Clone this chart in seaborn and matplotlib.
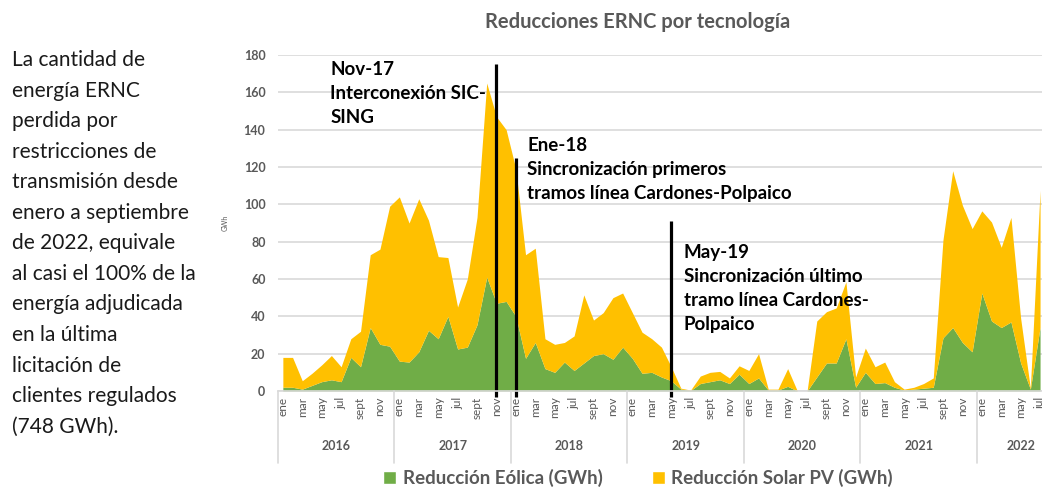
import numpy as np
import pandas as pd
import matplotlib
matplotlib.use("Agg")
import matplotlib.pyplot as plt
from matplotlib.patches import Patch
from matplotlib.transforms import blended_transform_factory
import seaborn as sns

# ---------------- data ----------------
years = [2016, 2017, 2018, 2019, 2020, 2021, 2022]
months_per_year = [12, 12, 12, 12, 12, 12, 9]   # period covered: Jan-2016 .. Sep-2022
month_names = ["ene", "feb", "mar", "abr", "may", "jun", "jul", "ago", "sept", "oct", "nov", "dic"]

# Reducción Eólica (GWh), Jan-2016 .. Jul-2022 (visible part)
eolica = [2, 2, 1, 3, 5, 6, 5, 18, 13, 34, 25, 24,
          16, 15.5, 21, 32.5, 28, 40, 22.5, 23.5, 35.5, 61, 47, 48,
          40, 17.5, 26, 12, 10, 15.5, 11, 15, 19, 20, 17, 23.5,
          17.5, 9.5, 10, 7.5, 5.5, 1, 0.3, 4, 5, 6, 4, 9,
          4, 7, 0.5, 0.5, 2.5, 0, 0, 7.5, 15, 15, 28, 2,
          10, 4, 4.5, 2, 0.5, 1, 1.5, 2, 28.5, 34, 26, 21,
          52.5, 37.5, 34, 37, 15, 1, 34]
# Total reduction (Eólica + Solar PV) read from stack top
total = [18, 18, 5.5, 9.5, 14, 19, 13, 28, 32, 73, 76, 99,
         104, 90, 103, 91.5, 72, 71.5, 45, 60, 93, 165, 147, 140,
         119, 73, 76.5, 28, 25, 26, 29.5, 51.5, 38, 42, 50, 52.5,
         42, 31.5, 28, 23.5, 13, 1.5, 0.5, 8, 10, 10.5, 7, 13.5,
         11, 20, 1, 1, 12, 0, 0, 37.5, 42.5, 44.5, 58.5, 7.5,
         23, 13, 15.5, 5, 1, 2, 4, 7, 81, 118, 99.5, 87,
         96.5, 90.5, 77, 93, 39, 1.5, 107.5]
solar = [t - e for t, e in zip(total, eolica)]

events = ["Nov-17", "Ene-18", "May-19"]
event_idx = [22, 24, 40]
event_top = [175, 125, 91]
event_text = ["Nov-17\nInterconexión SIC-\nSING",
              "Ene-18\nSincronización primeros\ntramos línea Cardones-Polpaico",
              "May-19\nSincronización último\ntramo línea Cardones-\nPolpaico"]

left_text = ("La cantidad de\nenergía ERNC\nperdida por\nrestricciones de\n"
             "transmisión desde\nenero a septiembre\nde 2022, equivale\n"
             "al casi el 100% de la\nenergía adjudicada\nen la última\n"
             "licitación de\nclientes regulados\n(748 GWh).")

n = len(eolica)
df = pd.DataFrame({
    "idx": np.arange(n),
    "year": [years[i // 12] for i in range(n)],
    "month": [month_names[i % 12] for i in range(n)],
    "eolica": eolica,
    "solar": solar,
})

# ---------------- style ----------------
sns.set_theme(style="white")
plt.rcParams["font.family"] = ["Lato", "DejaVu Sans"]

GREEN = "#70AD47"
YELLOW = "#FFC000"
GRAY = "#595959"

W, H = 1042, 488
fig = plt.figure(figsize=(W / 100, H / 100), dpi=100)
ax_left, ax_right, ax_top, ax_bottom = 278, 1042, 55, 391
ax = fig.add_axes([ax_left / W, 1 - ax_bottom / H, (ax_right - ax_left) / W, (ax_bottom - ax_top) / H])

ax.stackplot(df["idx"], df["eolica"], df["solar"], colors=[GREEN, YELLOW], linewidth=0)

ax.set_xlim(-0.5, 78.2)
ax.set_ylim(0, 180)
ax.set_yticks(np.arange(0, 181, 20))
ax.yaxis.grid(True, color="#d9d9d9", linewidth=1.2)
ax.set_axisbelow(True)
for s in ["top", "right", "left"]:
    ax.spines[s].set_visible(False)
ax.spines["bottom"].set_color("#d9d9d9")
ax.spines["bottom"].set_linewidth(1.2)

ax.tick_params(axis="y", length=0, pad=9, labelsize=9, labelcolor=GRAY)
for lab in ax.get_yticklabels():
    lab.set_fontweight("bold")
ax.set_ylabel("GWh", fontsize=5, color=GRAY)
ax.yaxis.set_label_coords(-0.064, 0.5)

tick_idx = df["idx"][::2]
ax.set_xticks(tick_idx)
ax.set_xticklabels(df["month"][::2], rotation=90, fontsize=8.5, color=GRAY)
ax.tick_params(axis="x", length=0, pad=4)

trans = blended_transform_factory(ax.transData, ax.transAxes)
start = -0.5
for yr, nm in zip(years, months_per_year):
    end = start + nm
    ax.plot([start, start], [0, -0.215], transform=trans, color="#d9d9d9", lw=1.2, clip_on=False)
    ax.text((start + end) / 2, -0.164, str(yr), transform=trans, ha="center", va="center",
            fontsize=9, fontweight="bold", color=GRAY)
    start = end

# event lines and annotations
text_pos = [(4.9, 177), (25.2, 136), (41.3, 79)]
for xi, top, txt, (tx, ty) in zip(event_idx, event_top, event_text, text_pos):
    ax.plot([xi, xi], [-3.2, top], color="black", lw=2.3, clip_on=False, solid_capstyle="butt")
    ax.text(tx, ty, txt, ha="left", va="top", fontsize=13.5, fontweight="bold",
            color="black", linespacing=1.5)

fig.text(638 / W, 1 - 22 / H, "Reducciones ERNC por tecnología", ha="center", va="center",
         fontsize=14.5, fontweight="bold", color=GRAY)

fig.text(12 / W, 1 - 50 / H, left_text, ha="left", va="top", fontsize=15,
         color="#1a1a1a", linespacing=1.66)

handles = [Patch(facecolor=GREEN, label="Reducción Eólica (GWh)"),
           Patch(facecolor=YELLOW, label="Reducción Solar PV (GWh)")]
leg = fig.legend(handles=handles, loc="center", bbox_to_anchor=(638 / W, 1 - 478 / H), ncol=2,
                 frameon=False, fontsize=13.5, handlelength=0.7, handleheight=0.7,
                 handletextpad=0.35, columnspacing=2.6, borderaxespad=0)
for t in leg.get_texts():
    t.set_color(GRAY)
    t.set_fontweight("bold")

fig.savefig("out.png", dpi=100)
